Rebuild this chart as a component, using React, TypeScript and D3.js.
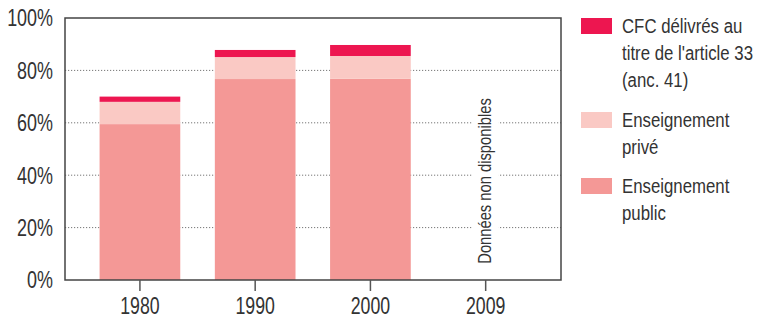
import React from "react";
import * as d3 from "d3";

const years = ["1980", "1990", "2000", "2009"];
const publicVals = [59.5, 76.7, 76.8, 0];
const priveVals = [8.5, 8.4, 8.7, 0];
const cfcVals = [2.0, 2.7, 4.2, 0];
const yTicks = [0, 20, 40, 60, 80, 100];
const seriesNames = ["Enseignement public", "Enseignement privé", "CFC délivrés au titre de l'article 33 (anc. 41)"];
const legendLines = [
  ["CFC délivrés au", "titre de l'article 33", "(anc. 41)"],
  ["Enseignement", "privé"],
  ["Enseignement", "public"],
];
const missingLabel = "Données non disponibles";

const colors = ["#F49896", "#FAC9C4", "#ED1650"];
const FONT = "'Liberation Sans', Arial, sans-serif";

function NText(props: { x: number; y: number; s?: number; size: number; anchor?: string; rotate?: number; children: React.ReactNode }) {
  const { x, y, s = 0.8, size, anchor = "start", rotate = 0, children } = props;
  return (
    <text
      transform={`translate(${x},${y}) rotate(${rotate}) scale(${s},1)`}
      textAnchor={anchor}
      fontSize={size}
      fill="#333"
    >
      {children}
    </text>
  );
}

export default function App() {
  const W = 763, H = 316;
  const frame = { left: 65, right: 561, top: 18, bottom: 280 };
  const x = d3.scaleBand<string>().domain(years).range([82.3, 543.3]).paddingInner(0.3).paddingOuter(0.15);
  const y = d3.scaleLinear().domain([0, 100]).range([frame.bottom, frame.top]);

  const rows = years.map((yr, i) => ({ year: yr, pub: publicVals[i], priv: priveVals[i], cfc: cfcVals[i] }));
  const stack = d3.stack<any>().keys(["pub", "priv", "cfc"])(rows);

  const missingX = (x("2009") ?? 0) + x.bandwidth() / 2;

  return (
    <svg width={W} height={H} style={{ position: "absolute", left: 0, top: 0 }} fontFamily={FONT}>
      <rect x={0} y={0} width={W} height={H} fill="#fff" />
      {yTicks.filter((t) => t > 0 && t < 100).map((t) => (
        <line key={t} x1={frame.left} x2={frame.right} y1={y(t)} y2={y(t)} stroke="#777" strokeWidth={1} strokeDasharray="1.2,1.8" />
      ))}
      {stack.map((s, si) => (
        <g key={si} fill={colors[si]}>
          {s.map((d, i) => (d[1] - d[0] > 0 ? (
            <rect key={i} x={x(years[i])} width={x.bandwidth()} y={y(d[1])} height={y(d[0]) - y(d[1])}>
              <title>{seriesNames[si]}</title>
            </rect>
          ) : null))}
        </g>
      ))}
      <rect x={missingX - 13} y={y(69)} width={26} height={y(4) - y(69)} fill="#fff" />
      <NText x={missingX + 5} y={181} rotate={-90} s={0.82} size={18} anchor="middle">{missingLabel}</NText>
      <rect x={frame.left} y={frame.top} width={frame.right - frame.left} height={frame.bottom - frame.top} fill="none" stroke="#444" strokeWidth={1.5} />
      {years.map((yr) => {
        const cx = (x(yr) ?? 0) + x.bandwidth() / 2;
        return (
          <g key={yr}>
            <line x1={cx} x2={cx} y1={frame.bottom} y2={frame.bottom + 11} stroke="#555" strokeWidth={1.5} />
            <NText x={cx} y={314} s={0.77} size={23} anchor="middle">{yr}</NText>
          </g>
        );
      })}
      {yTicks.map((t) => (
        <NText key={t} x={53} y={y(t) + 8.3} s={0.78} size={23} anchor="end">{t}%</NText>
      ))}
      {legendLines.map((lines, li) => {
        const swY = [18, 112, 178][li];
        return (
          <g key={li}>
            <rect x={581} y={swY} width={31} height={16} fill={colors[2 - li]} />
            {lines.map((ln, k) => (
              <NText key={k} x={622} y={swY + 15 + k * 27} s={0.8} size={21}>{ln}</NText>
            ))}
          </g>
        );
      })}
    </svg>
  );
}
